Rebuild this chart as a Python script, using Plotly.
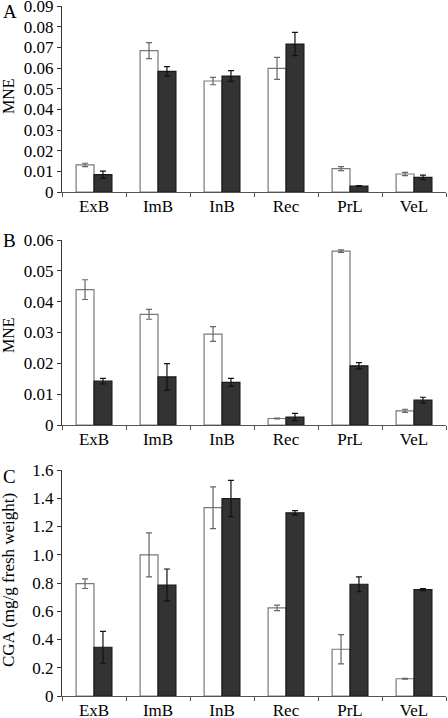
import plotly.graph_objects as go

categories = ["ExB", "ImB", "InB", "Rec", "PrL", "VeL"]

# Panel A (MNE)
a_white = [0.0131, 0.0684, 0.0537, 0.0598, 0.0113, 0.0087]
a_white_err = [0.0008, 0.0039, 0.0018, 0.0053, 0.0010, 0.0008]
a_dark = [0.0084, 0.0584, 0.0561, 0.0716, 0.0029, 0.0071]
a_dark_err = [0.0017, 0.0023, 0.0026, 0.0056, 0.0002, 0.0011]

# Panel B (MNE)
b_white = [0.0439, 0.0359, 0.0295, 0.0021, 0.0564, 0.0046]
b_white_err = [0.0032, 0.0016, 0.0024, 0.0001, 0.0004, 0.0005]
b_dark = [0.0142, 0.0156, 0.0138, 0.0026, 0.0192, 0.0081]
b_dark_err = [0.0009, 0.0043, 0.0013, 0.0012, 0.0010, 0.0009]

# Panel C (CGA)
c_white = [0.795, 0.999, 1.333, 0.624, 0.331, 0.122]
c_white_err = [0.034, 0.156, 0.148, 0.020, 0.103, 0.003]
c_dark = [0.345, 0.786, 1.398, 1.297, 0.791, 0.753]
c_dark_err = [0.113, 0.113, 0.129, 0.016, 0.053, 0.007]

a_ticks = [0, 0.01, 0.02, 0.03, 0.04, 0.05, 0.06, 0.07, 0.08, 0.09]
a_ticktext = ["0", "0.01", "0.02", "0.03", "0.04", "0.05", "0.06", "0.07", "0.08", "0.09"]
b_ticks = [0, 0.01, 0.02, 0.03, 0.04, 0.05, 0.06]
b_ticktext = ["0", "0.01", "0.02", "0.03", "0.04", "0.05", "0.06"]
c_ticks = [0, 0.2, 0.4, 0.6, 0.8, 1.0, 1.2, 1.4, 1.6]
c_ticktext = ["0", "0.2", "0.4", "0.6", "0.8", "1.0", "1.2", "1.4", "1.6"]

WHITE_LINE = "#7a7a7a"
DARK_FILL = "#333333"
DARK_LINE = "#1a1a1a"
FONT = "Liberation Serif, Times New Roman, Times, serif"

fig = go.Figure()

panels = [
    ("x", "y", a_white, a_white_err, a_dark, a_dark_err),
    ("x2", "y2", b_white, b_white_err, b_dark, b_dark_err),
    ("x3", "y3", c_white, c_white_err, c_dark, c_dark_err),
]
for xa, ya, w, we, d, de in panels:
    fig.add_trace(go.Bar(
        x=categories, y=w, xaxis=xa, yaxis=ya,
        marker=dict(color="white", line=dict(color=WHITE_LINE, width=1.2)),
        error_y=dict(type="data", array=we, color="#666666", thickness=1.2, width=3),
        showlegend=False,
    ))
    fig.add_trace(go.Bar(
        x=categories, y=d, xaxis=xa, yaxis=ya,
        marker=dict(color=DARK_FILL, line=dict(color=DARK_LINE, width=1.2)),
        error_y=dict(type="data", array=de, color="#111111", thickness=1.2, width=3),
        showlegend=False,
    ))

BOTTOM = 696
TOP = 6
H_PLOT = float(BOTTOM - TOP)
def py(px):
    return (BOTTOM - px) / H_PLOT

xcommon = dict(
    type="category", showline=True, linecolor="#555555", linewidth=1.2,
    ticks="outside", tickson="boundaries", ticklen=4, tickcolor="#555555",
    tickfont=dict(family=FONT, size=17, color="black"), showgrid=False,
    domain=[0, 1], zeroline=False, automargin=False, ticklabeloverflow="allow",
    ticklabelstandoff=-2,
)
ycommon = dict(
    showline=True, linecolor="#333333", linewidth=1.2, ticks="outside",
    ticklen=4, tickcolor="#333333", showgrid=False, zeroline=False,
    tickfont=dict(family=FONT, size=17, color="black"), automargin=False,
    ticklabeloverflow="allow",
)

fig.update_layout(
    width=448, height=718,
    margin=dict(l=62, r=2, t=TOP, b=718 - BOTTOM),
    paper_bgcolor="white", plot_bgcolor="white",
    barmode="group", bargap=0.44, bargroupgap=0,
    xaxis=dict(**xcommon, anchor="y"),
    xaxis2=dict(**xcommon, anchor="y2"),
    xaxis3=dict(**xcommon, anchor="y3"),
    yaxis=dict(**ycommon, domain=[py(192), 1.0], range=[0, 0.09],
               tickvals=a_ticks, ticktext=a_ticktext, anchor="x"),
    yaxis2=dict(**ycommon, domain=[py(425), py(240)], range=[0, 0.06],
                tickvals=b_ticks, ticktext=b_ticktext, anchor="x2"),
    yaxis3=dict(**ycommon, domain=[0, py(470)], range=[0, 1.6],
                tickvals=c_ticks, ticktext=c_ticktext, anchor="x3"),
)

def px_x(px):
    return (px - 62) / 384.0

annots = [
    dict(text="A", x=px_x(1), y=py(11), xanchor="left", yanchor="middle", font=dict(size=19)),
    dict(text="B", x=px_x(1), y=py(241), xanchor="left", yanchor="middle", font=dict(size=19)),
    dict(text="C", x=px_x(1), y=py(476), xanchor="left", yanchor="middle", font=dict(size=19)),
    dict(text="MNE", x=px_x(8), y=py(96), xanchor="center", yanchor="middle", textangle=-90, font=dict(size=16)),
    dict(text="MNE", x=px_x(8), y=py(335), xanchor="center", yanchor="middle", textangle=-90, font=dict(size=16)),
    dict(text="CGA (mg/g fresh weight)", x=px_x(8), y=py(580), xanchor="center", yanchor="middle", textangle=-90, font=dict(size=17)),
]
for a in annots:
    a["font"].update(family=FONT, color="black")
    fig.add_annotation(xref="paper", yref="paper", showarrow=False, **a)

fig.write_html(
    "out.html",
    config={"displayModeBar": False},
    post_script="document.body.style.margin='0';document.body.style.overflow='hidden';",
)
